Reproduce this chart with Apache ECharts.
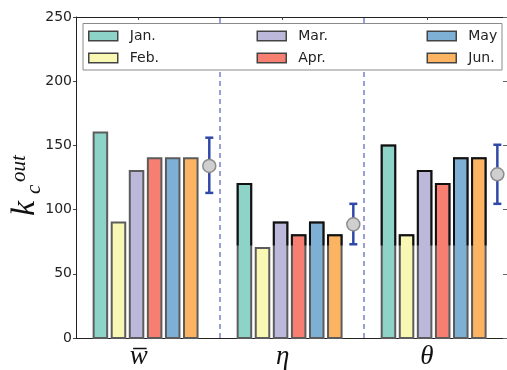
<!DOCTYPE html>
<html><head><meta charset="utf-8">
<script src="https://cdn.jsdelivr.net/npm/echarts@6/dist/echarts.min.js"></script>
<style>html,body{margin:0;padding:0;background:#fff}#c{width:507px;height:370px}</style>
</head><body><div id="c"></div>
<script>
// ---- data ----
const groups = ['w\u0305', '\u03b7', '\u03b8'];
const months = ['Jan.', 'Feb.', 'Mar.', 'Apr.', 'May', 'Jun.'];
const jan = [160, 120, 150];
const feb = [90, 70, 80];
const mar = [130, 90, 130];
const apr = [140, 80, 120];
const may = [140, 90, 140];
const jun = [140, 80, 140];
const errMean = [134, 88.5, 127.5];
const errLow = [113, 73, 104.5];
const errHigh = [156, 104.5, 150.5];
const yTicks = [0, 50, 100, 150, 200, 250];
const dividers = [0.565, 1.565];

const seriesValues = [jan, feb, mar, apr, may, jun];
const colors = ['#8dd3c7', '#f9f7b4', '#bcb8da', '#f67f72', '#7db0d4', '#fcb462'];
const groupIdx = groups.map((_, i) => i);

// layout (in axis units)
const barStart = -0.266, barPitch = 0.1255, barW = 0.094, errOffset = 0.49, edgeSplit = 72;

function barRender(si) {
  return function (params, api) {
    const g = api.value(0), v = api.value(1);
    const xc = g + barStart + si * barPitch;
    const top = api.coord([xc, v]);
    const base = api.coord([xc, 0]);
    const w = api.size([barW, 0])[0];
    const x0 = top[0] - w / 2, x1 = top[0] + w / 2;
    const children = [{
      type: 'rect',
      shape: { x: x0, y: top[1], width: w, height: base[1] - top[1] },
      style: { fill: colors[si], stroke: '#5c5c5c', lineWidth: 2 }
    }];
    if (g > 0) {
      const split = api.coord([xc, edgeSplit])[1];
      if (split > top[1]) {
        children.push({
          type: 'polyline',
          shape: { points: [[x0, split], [x0, top[1]], [x1, top[1]], [x1, split]] },
          style: { stroke: '#111', lineWidth: 2, fill: null }
        });
      }
    }
    return { type: 'group', children };
  };
}

const barSeries = months.map((m, si) => ({
  name: m,
  type: 'custom',
  renderItem: barRender(si),
  itemStyle: { color: colors[si], borderColor: '#444', borderWidth: 1.5 },
  data: groupIdx.map(g => [g, seriesValues[si][g]]),
  z: 3
}));

const errSeries = {
  name: 'err',
  type: 'custom',
  z: 5,
  data: groupIdx.map(g => [g, errMean[g], errLow[g], errHigh[g]]),
  renderItem: function (params, api) {
    const x = api.value(0) + errOffset;
    const pm = api.coord([x, api.value(1)]);
    const pl = api.coord([x, api.value(2)]);
    const ph = api.coord([x, api.value(3)]);
    const c = '#3049a8', cw = 4;
    return {
      type: 'group', children: [
        { type: 'line', shape: { x1: pl[0], y1: pl[1], x2: ph[0], y2: ph[1] }, style: { stroke: c, lineWidth: 2.5 } },
        { type: 'line', shape: { x1: pl[0] - cw, y1: pl[1], x2: pl[0] + cw, y2: pl[1] }, style: { stroke: c, lineWidth: 2.5 } },
        { type: 'line', shape: { x1: ph[0] - cw, y1: ph[1], x2: ph[0] + cw, y2: ph[1] }, style: { stroke: c, lineWidth: 2.5 } },
        { type: 'circle', shape: { cx: pm[0], cy: pm[1], r: 6.5 }, style: { fill: '#cfcfcf', stroke: '#8c8c8c', lineWidth: 1.5 } }
      ]
    };
  },
  markLine: {
    silent: true, symbol: 'none', animation: false,
    label: { show: false },
    lineStyle: { color: '#7a80cc', type: [5, 4], width: 1.5 },
    data: dividers.map(x => ({ xAxis: x }))
  }
};

const xMin = -0.4354, xMax = 2.557;
const legendCommon = {
  orient: 'vertical', top: 29, padding: 0, itemWidth: 29, itemHeight: 9.5, itemGap: 8, z: 20,
  icon: 'rect',
  itemStyle: { borderColor: '#444', borderWidth: 1.5 },
  textStyle: { fontFamily: 'DejaVu Sans', fontSize: 14, color: '#222', lineHeight: 14, padding: [0, 0, 0, 7] }
};

const option = {
  animation: false,
  backgroundColor: '#fff',
  grid: { left: 76, top: 17, width: 433, height: 325 },
  xAxis: [{
    type: 'value', min: xMin, max: xMax, position: 'bottom',
    axisLine: { show: true, onZero: false, lineStyle: { color: '#222', width: 1 } },
    splitLine: { show: false },
    axisTick: { show: false },
    axisLabel: {
      customValues: groupIdx, margin: 5,
      fontFamily: 'Liberation Serif, DejaVu Serif', fontStyle: 'italic', fontSize: 27, color: '#111',
      formatter: v => groups[Math.round(v)]
    }
  }, {
    type: 'value', min: xMin, max: xMax, position: 'top',
    axisLine: { show: true, onZero: false, lineStyle: { color: '#222', width: 1 } },
    splitLine: { show: false },
    axisTick: { show: true, inside: true, length: 3, customValues: groupIdx, lineStyle: { color: '#444' } },
    axisLabel: { show: false }
  }],
  yAxis: [{
    type: 'value', min: yTicks[0], max: yTicks[yTicks.length - 1], interval: 50, position: 'left',
    axisLine: { show: true, onZero: false, lineStyle: { color: '#222', width: 1 } },
    splitLine: { show: false },
    axisTick: { show: true, length: 3, lineStyle: { color: '#444' } },
    axisLabel: { margin: 4, fontFamily: 'DejaVu Sans', fontSize: 14, color: '#222' }
  }, {
    type: 'value', min: yTicks[0], max: yTicks[yTicks.length - 1], interval: 50, position: 'right',
    axisLine: { show: true, onZero: false, lineStyle: { color: '#222', width: 1 } },
    splitLine: { show: false },
    axisTick: { show: true, inside: true, length: 4, lineStyle: { color: '#666' } },
    axisLabel: { show: false }
  }],
  legend: [
    Object.assign({}, legendCommon, { left: 88, data: [months[0], months[1]] }),
    Object.assign({}, legendCommon, { left: 256.5, data: [months[2], months[3]] }),
    Object.assign({}, legendCommon, { left: 426.5, data: [months[4], months[5]] })
  ],
  graphic: [
    { type: 'rect', z: 15, shape: { x: 83, y: 23.5, width: 419, height: 46.5 },
      style: { fill: '#fff', stroke: '#8a8a8a', lineWidth: 1 } },
    { type: 'group', x: 42, y: 216, rotation: Math.PI / 2, z: 20, children: [
      { type: 'text', x: 0, y: 0, style: { text: 'k', font: 'italic 34px "Liberation Serif"', fill: '#111', verticalAlign: 'bottom' } },
      { type: 'text', x: 22, y: 3, style: { text: 'c', font: 'italic 21px "Liberation Serif"', fill: '#111', verticalAlign: 'bottom' } },
      { type: 'text', x: 34, y: -12, style: { text: 'out', font: 'italic 21px "Liberation Serif"', fill: '#111', verticalAlign: 'bottom' } }
    ] }
  ],
  series: barSeries.concat([errSeries])
};

const chart = echarts.init(document.getElementById('c'), null, { renderer: 'canvas' });
chart.setOption(option);
</script>
</body></html>
